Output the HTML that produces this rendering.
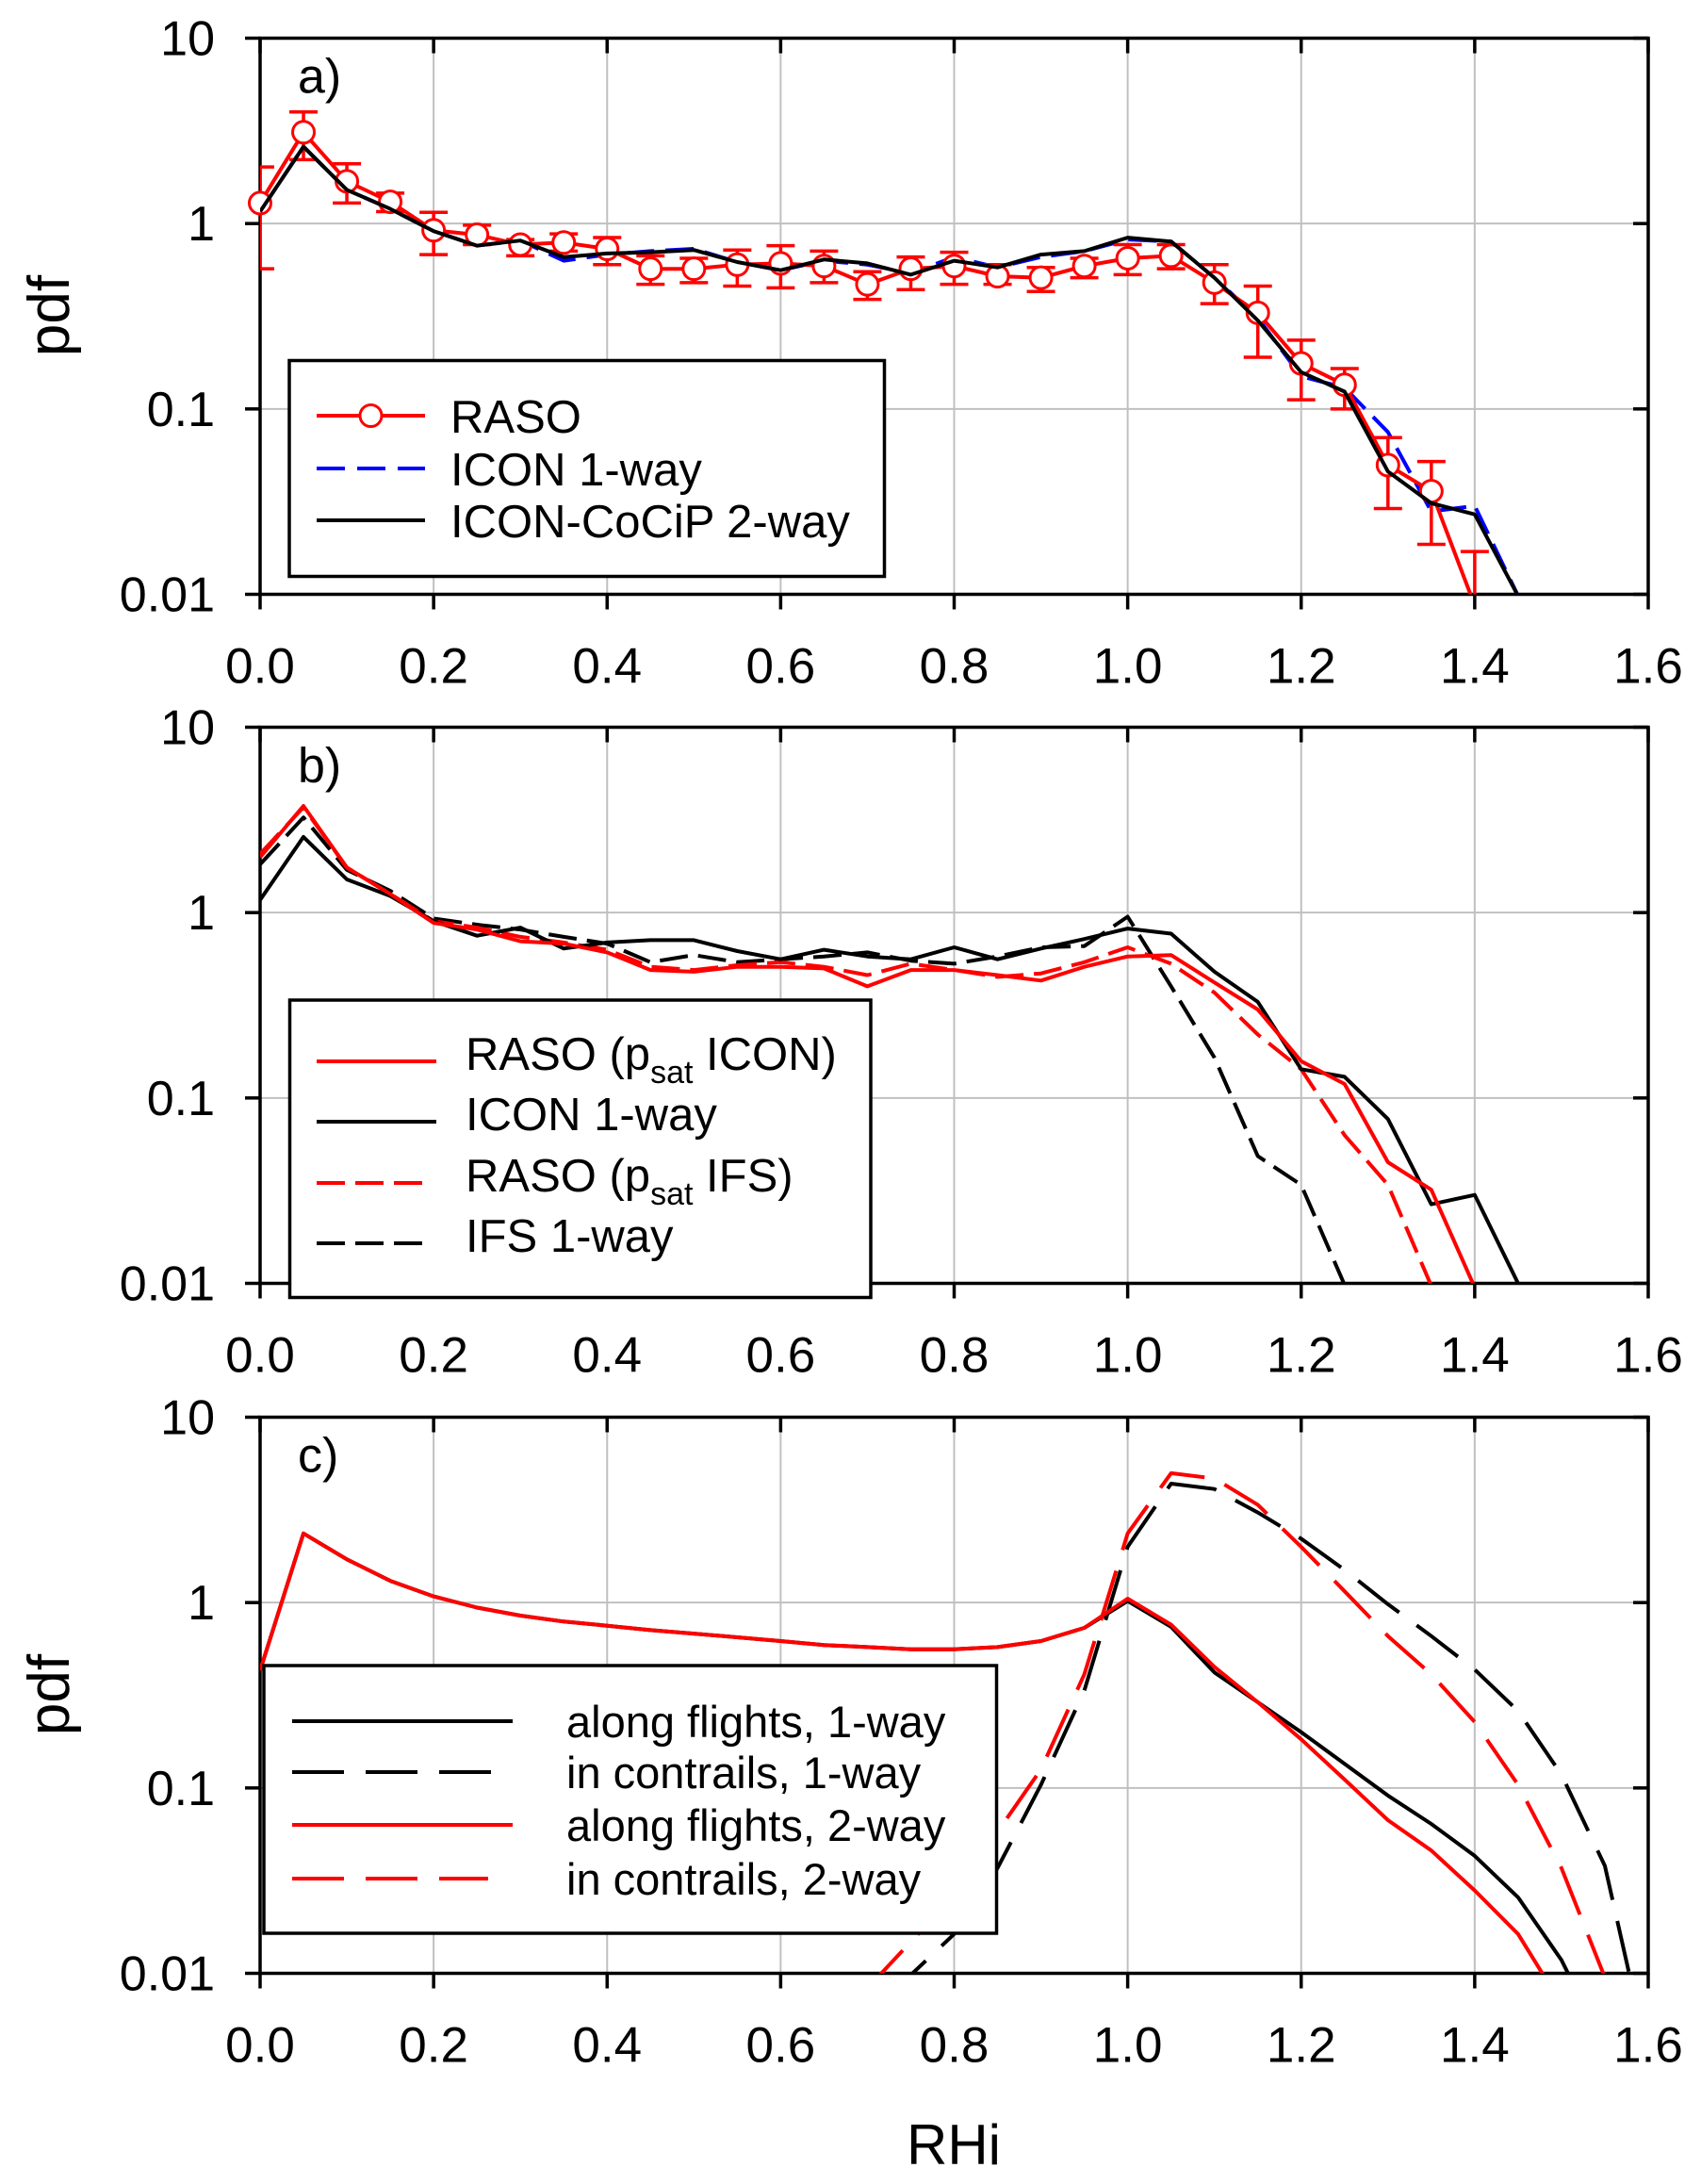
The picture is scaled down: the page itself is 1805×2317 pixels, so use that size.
<!DOCTYPE html>
<html><head><meta charset="utf-8"><style>
html,body{margin:0;padding:0;background:#fff;}
svg{display:block;font-family:"Liberation Sans",Arial,sans-serif;}
</style></head><body>
<svg id="chart" xmlns="http://www.w3.org/2000/svg" width="1805" height="2317" viewBox="0 0 1805 2317">
<rect x="0" y="0" width="1805" height="2317" fill="#fff"/>
</svg>
<script>
// ---- data (RHi bins) ----
const rhiA = [0,0.05,0.1,0.15,0.2,0.25,0.3,0.35,0.4,0.45,0.5,0.55,0.6,0.65,0.7,0.75,0.8,0.85,0.9,0.95,1.0,1.05,1.1,1.15,1.2,1.25,1.3,1.35,1.4,1.45];
// panel a
const rasoA = [1.29,3.11,1.69,1.31,0.92,0.87,0.77,0.79,0.73,0.57,0.57,0.60,0.61,0.59,0.47,0.57,0.59,0.52,0.51,0.59,0.65,0.67,0.48,0.33,0.176,0.135,0.0498,0.036,0.0087];
const rasoAHi = [2.02,4.0,2.1,1.46,1.15,0.98,0.82,0.88,0.84,0.67,0.65,0.72,0.76,0.71,0.55,0.66,0.70,0.60,0.58,0.65,0.77,0.77,0.60,0.46,0.235,0.165,0.07,0.052,0.017];
const rasoALo = [0.57,2.21,1.29,1.16,0.68,0.77,0.67,0.71,0.60,0.47,0.48,0.46,0.45,0.48,0.39,0.44,0.47,0.47,0.43,0.51,0.53,0.57,0.37,0.19,0.112,0.10,0.029,0.0186,0.005];
const icon1wayA = [1.16,2.6,1.52,1.2,0.91,0.76,0.81,0.63,0.68,0.71,0.73,0.62,0.56,0.63,0.60,0.54,0.66,0.58,0.66,0.71,0.82,0.80,0.51,0.31,0.15,0.13,0.075,0.028,0.030,0.0098];
const cocip2wayA = [1.16,2.6,1.52,1.2,0.91,0.76,0.81,0.66,0.69,0.70,0.72,0.62,0.56,0.64,0.61,0.53,0.63,0.58,0.68,0.71,0.84,0.80,0.51,0.30,0.158,0.124,0.046,0.031,0.027,0.0098];
// panel b
const rasoIconB = [1.99,3.76,1.75,1.26,0.88,0.81,0.70,0.68,0.61,0.49,0.48,0.51,0.51,0.50,0.40,0.49,0.49,0.46,0.43,0.51,0.58,0.59,0.42,0.30,0.158,0.119,0.045,0.032,0.0095];
const icon1wayB = [1.17,2.56,1.51,1.23,0.90,0.75,0.83,0.64,0.69,0.71,0.71,0.62,0.56,0.63,0.58,0.56,0.65,0.56,0.64,0.72,0.82,0.77,0.48,0.33,0.143,0.13,0.077,0.0267,0.030,0.01];
const rasoIfsB = [2.07,3.7,1.75,1.26,0.90,0.83,0.74,0.69,0.63,0.51,0.49,0.52,0.54,0.51,0.46,0.53,0.49,0.45,0.47,0.54,0.65,0.53,0.37,0.22,0.143,0.063,0.034,0.0097];
const ifs1wayB = [1.82,3.26,1.70,1.31,0.93,0.86,0.81,0.74,0.68,0.54,0.59,0.54,0.56,0.58,0.61,0.55,0.53,0.58,0.65,0.66,0.95,0.40,0.165,0.0486,0.034,0.0098];
// panel c
const rhiC = [0,0.05,0.1,0.15,0.2,0.25,0.3,0.35,0.4,0.45,0.5,0.55,0.6,0.65,0.7,0.75,0.8,0.85,0.9,0.95,1.0,1.05,1.1,1.15,1.2,1.25,1.3,1.35,1.4,1.45,1.5,1.55,1.6];
const along1way = [0.43,2.36,1.71,1.31,1.08,0.94,0.85,0.79,0.75,0.71,0.68,0.65,0.62,0.59,0.575,0.56,0.56,0.575,0.62,0.73,1.02,0.74,0.42,0.29,0.20,0.135,0.091,0.064,0.043,0.0257,0.0118,0.004];
const contrail1way = [null,null,null,null,null,null,null,null,null,null,null,null,null,null,0.003,0.0098,0.0163,0.037,0.104,0.335,2.0,4.38,4.1,3.06,2.21,1.50,0.98,0.66,0.435,0.26,0.118,0.038,0.0035];
const along2way = [0.43,2.36,1.71,1.31,1.08,0.94,0.85,0.79,0.75,0.71,0.68,0.65,0.62,0.59,0.575,0.56,0.56,0.575,0.62,0.73,1.05,0.76,0.45,0.29,0.183,0.111,0.067,0.046,0.028,0.0163,0.0068];
const contrail2way = [null,null,null,null,null,null,null,null,null,null,null,null,null,null,0.0083,0.0148,0.0265,0.058,0.126,0.41,2.36,4.99,4.67,3.37,2.0,1.15,0.66,0.41,0.227,0.104,0.037,0.0095];
const xTicks = [0,0.2,0.4,0.6,0.8,1.0,1.2,1.4,1.6];
const xTickLabels = ["0.0","0.2","0.4","0.6","0.8","1.0","1.2","1.4","1.6"];
const yTicks = [0.01,0.1,1,10];
const yTickLabels = ["0.01","0.1","1","10"];

// ---- layout ----
const NS = "http://www.w3.org/2000/svg";
const svg = document.getElementById("chart");
const L = 276, R = 1749, H = 590;
const tops = [40.5, 771.5, 1503.5];
function sx(v){ return L + (v/1.6)*(R-L); }
function sy(v, top){ return top + H - (Math.log10(v)+2)*(H/3); }
function mk(tag, attrs, parent){
  const e = document.createElementNS(NS, tag);
  for (const k in attrs) e.setAttribute(k, attrs[k]);
  (parent||svg).appendChild(e);
  return e;
}

function axes(top, idx, letter){
  const g = mk("g", {});
  
  
  // grid
  for (let i=1;i<xTicks.length-1;i++){
    const l = mk("line",{x1:sx(xTicks[i]),x2:sx(xTicks[i]),y1:top,y2:top+H,stroke:"#c0c0c0","stroke-width":2},g);
    
    
  }
  for (let i=1;i<yTicks.length-1;i++){
    const l = mk("line",{x1:L,x2:R,y1:sy(yTicks[i],top),y2:sy(yTicks[i],top),stroke:"#c0c0c0","stroke-width":2},g);
    
    
  }
  const fr = mk("rect",{x:L,y:top,width:R-L,height:H,fill:"none",stroke:"#000","stroke-width":3.5},g);
  
  
  for (let i=0;i<xTicks.length;i++){
    const x = sx(xTicks[i]);
    mk("line",{x1:x,x2:x,y1:top+H,y2:top+H+16,stroke:"#000","stroke-width":3.5},g);
    mk("line",{x1:x,x2:x,y1:top,y2:top+16,stroke:"#000","stroke-width":3.5},g);
    const t = mk("text",{x:x,y:top+H+94,"font-size":53,"text-anchor":"middle",fill:"#000"},g);
    t.textContent = xTickLabels[i];
    
    
  }
  for (let i=0;i<yTicks.length;i++){
    const y = sy(yTicks[i],top);
    mk("line",{x1:L-16,x2:L,y1:y,y2:y,stroke:"#000","stroke-width":3.5},g);
    mk("line",{x1:R-16,x2:R,y1:y,y2:y,stroke:"#000","stroke-width":3.5},g);
    const t = mk("text",{x:228,y:y+18,"font-size":52,"text-anchor":"end",fill:"#000"},g);
    t.textContent = yTickLabels[i];
    
    
  }
  const pl = mk("text",{x:316,y:top+58,"font-size":52,fill:"#000"},g);
  pl.textContent = letter + ")";
  
  
  const cp = mk("clipPath",{id:"clip"+idx},g);
  mk("rect",{x:L,y:top,width:R-L,height:H},cp);
  return g;
}

function series(xs, ys, top, idx, color, dash, name){
  let d = "", pen = false;
  for (let i=0;i<ys.length && i<xs.length;i++){
    if (ys[i]==null){ pen=false; continue; }
    d += (pen?"L":"M") + sx(xs[i]).toFixed(1) + "," + sy(ys[i],top).toFixed(1);
    pen = true;
  }
  const p = mk("path",{d:d,fill:"none",stroke:color,"stroke-width":4,"stroke-linejoin":"round","clip-path":"url(#clip"+idx+")"});
  if (dash) p.setAttribute("stroke-dasharray", dash);
  
  
}

function legend(box, items, fs, lineX1, lineX2, textX){
  const g = mk("g",{});
  
  
  mk("rect",{x:box[0],y:box[1],width:box[2]-box[0],height:box[3]-box[1],fill:"#fff",stroke:"#000","stroke-width":3.5},g);
  items.forEach(it=>{
    const ln = mk("line",{x1:lineX1,x2:it.x2||lineX2,y1:it.y,y2:it.y,stroke:it.color,"stroke-width":4},g);
    if (it.dash) ln.setAttribute("stroke-dasharray", it.dash);
    
    
    if (it.marker){
      mk("circle",{cx:(lineX1+lineX2)/2,cy:it.y,r:11.5,fill:"#fff",stroke:it.color,"stroke-width":3},g);
    }
    const t = mk("text",{x:textX,y:it.y+it.dy,"font-size":fs,fill:"#000"},g);
    if (it.sub){
      const a = mk("tspan",{},t); a.textContent = it.label[0];
      const s = mk("tspan",{"font-size":34,dy:14},t); s.textContent = it.sub;
      const b = mk("tspan",{dy:-14},t); b.textContent = " " + it.label[1];
    } else t.textContent = it.label;
    
    
  });
}

// ---- panel a ----
axes(tops[0],0,"a");
series(rhiA, icon1wayA, tops[0], 0, "#0000ff", "30 12", "icon-1way-line");
series(rhiA, rasoA, tops[0], 0, "#ff0000", null, "raso-line");
(function(){
  const top = tops[0];
  for (let i=0;i<rasoA.length;i++){
    const x = sx(rhiA[i]);
    const yh = Math.max(sy(rasoAHi[i],top), top), yl = Math.min(sy(rasoALo[i],top), top+H);
    const e = mk("path",{d:`M${x},${yh}L${x},${yl}M${x-15},${yh}L${x+15},${yh}`+(sy(rasoALo[i],top)<=top+H?`M${x-15},${yl}L${x+15},${yl}`:""),stroke:"#ff0000","stroke-width":3.5,fill:"none","clip-path":"url(#clip0)"});
    
    
  }
  for (let i=0;i<rasoA.length;i++){
    if (sy(rasoA[i],top) > top+H) continue;
    const c = mk("circle",{cx:sx(rhiA[i]),cy:sy(rasoA[i],top),r:11.5,fill:"#fff",stroke:"#ff0000","stroke-width":3});
    
    
  }
})();
series(rhiA, cocip2wayA, tops[0], 0, "#000000", null, "icon-cocip-2way-line");
legend([307,382.5,938.5,611.5],[
  {y:441,color:"#ff0000",label:"RASO",marker:true,dy:18},
  {y:497,color:"#0000ff",dash:"30 13",label:"ICON 1-way",dy:18},
  {y:552,color:"#000",label:"ICON-CoCiP 2-way",dy:18}
],49,336,451,478);

// ---- panel b ----
axes(tops[1],1,"b");
series(rhiA, ifs1wayB, tops[1], 1, "#000000", "30 11", "ifs-1way-line");
series(rhiA, rasoIfsB, tops[1], 1, "#ff0000", "30 11", "raso-psat-ifs-line");
series(rhiA, icon1wayB, tops[1], 1, "#000000", null, "icon-1way-line");
series(rhiA, rasoIconB, tops[1], 1, "#ff0000", null, "raso-psat-icon-line");
legend([307.5,1061,924,1376.5],[
  {y:1126,color:"#ff0000",label:["RASO (p","ICON)"],sub:"sat",dy:9},
  {y:1190,color:"#000",label:"ICON 1-way",dy:9},
  {y:1255,color:"#ff0000",dash:"30 11",x2:450,label:["RASO (p","IFS)"],sub:"sat",dy:9},
  {y:1319,color:"#000",dash:"30 11",x2:450,label:"IFS 1-way",dy:9}
],49,336,463,494);

// ---- panel c ----
axes(tops[2],2,"c");
series(rhiC, along1way, tops[2], 2, "#000000", null, "along-flights-1way-line");
series(rhiC, contrail1way, tops[2], 2, "#000000", "55 23", "in-contrails-1way-line");
series(rhiC, contrail2way, tops[2], 2, "#ff0000", "55 23", "in-contrails-2way-line");
series(rhiC, along2way, tops[2], 2, "#ff0000", null, "along-flights-2way-line");
legend([280,1767,1057.5,2051],[
  {y:1826,color:"#000",label:"along flights, 1-way",dy:17},
  {y:1880,color:"#000",dash:"55 23",x2:522,label:"in contrails, 1-way",dy:17},
  {y:1936,color:"#ff0000",label:"along flights, 2-way",dy:17},
  {y:1993,color:"#ff0000",dash:"55 23",x2:518,label:"in contrails, 2-way",dy:17}
],47,310,544,601);

// ---- axis titles ----
[[335,"y-axis-title-top"],[1798,"y-axis-title-bottom"]].forEach(p=>{
  const t = mk("text",{x:0,y:0,"font-size":62,"text-anchor":"middle",fill:"#000",transform:`translate(73,${p[0]}) rotate(-90)`});
  t.textContent = "pdf";
  
  
});
const xt = mk("text",{x:1012,y:2296,"font-size":60,"text-anchor":"middle",fill:"#000"});
xt.textContent = "RHi";


</script>
</body></html>
